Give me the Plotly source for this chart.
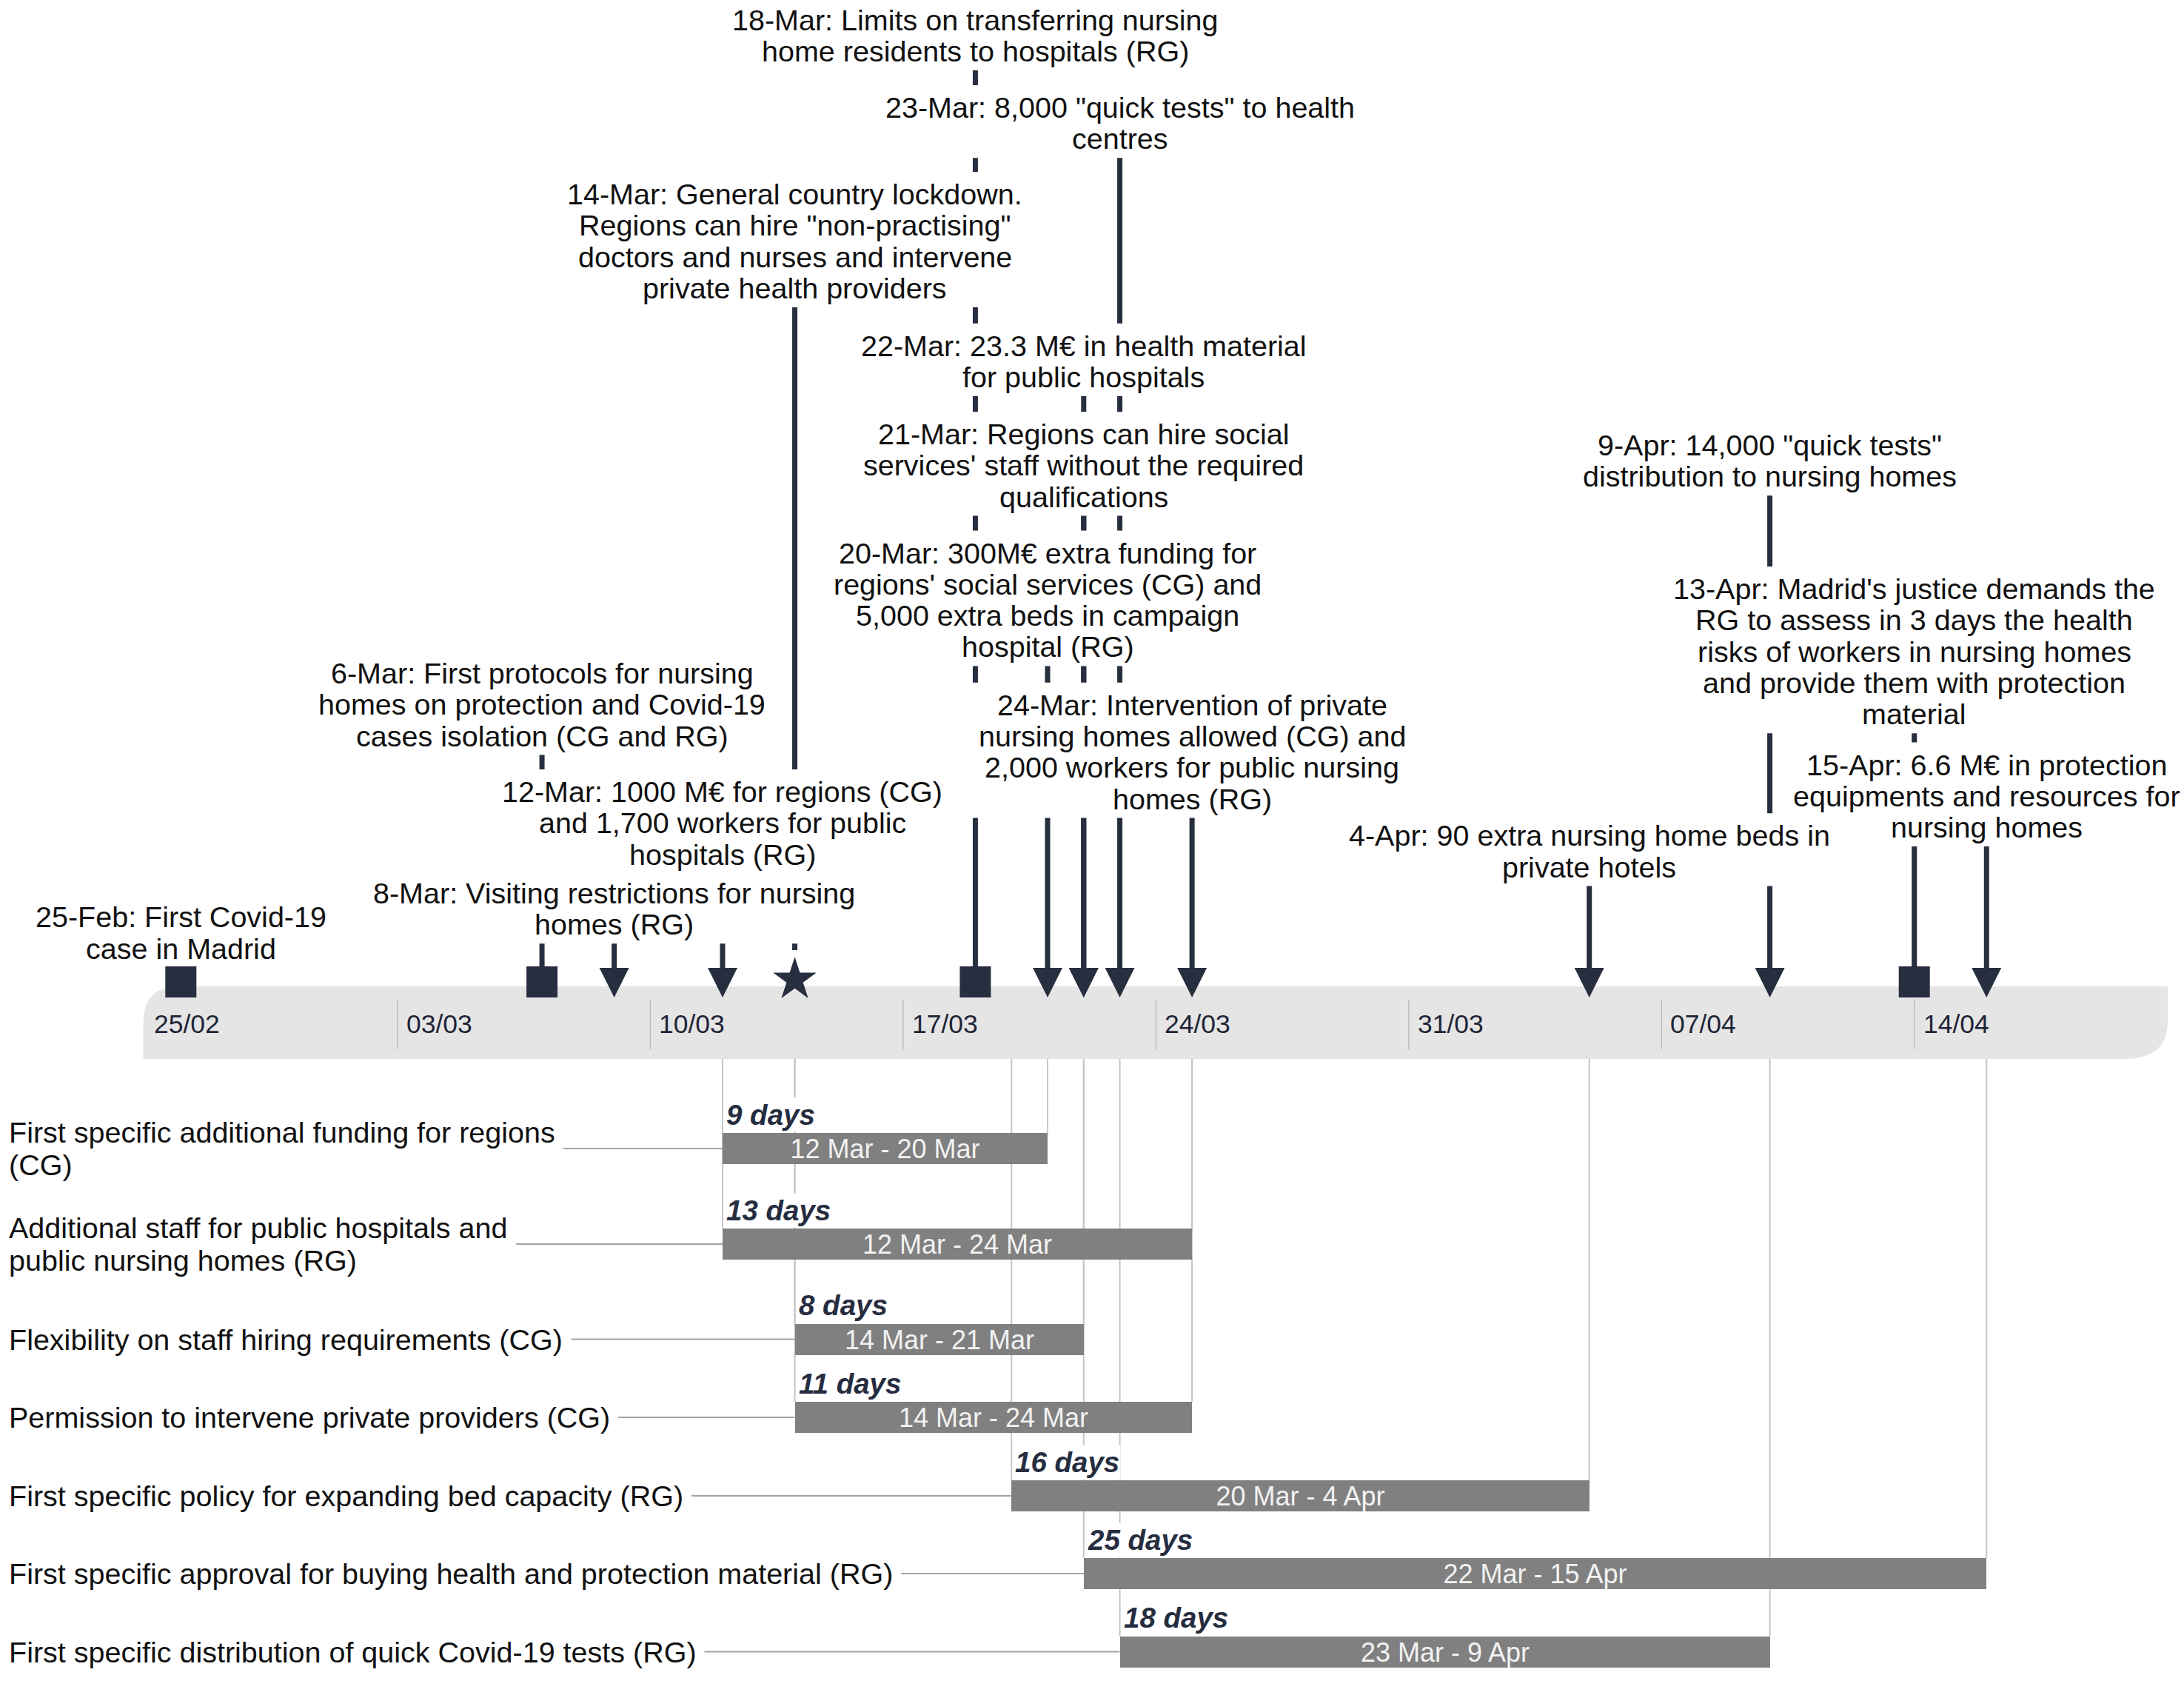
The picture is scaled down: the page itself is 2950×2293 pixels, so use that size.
import plotly.graph_objects as go
import pandas as pd

# ---------------- data ----------------
tick_dates = ['2020-02-25', '2020-03-03', '2020-03-10', '2020-03-17',
              '2020-03-24', '2020-03-31', '2020-04-07', '2020-04-14']
tick_labels = ['25/02', '03/03', '10/03', '17/03', '24/03', '31/03', '07/04', '14/04']

event_texts = [
    "25-Feb: First Covid-19\ncase in Madrid",
    "6-Mar: First protocols for nursing\nhomes on protection and Covid-19\ncases isolation (CG and RG)",
    "8-Mar: Visiting restrictions for nursing\nhomes (RG)",
    "12-Mar: 1000 M€ for regions (CG)\nand 1,700 workers for public\nhospitals (RG)",
    "14-Mar: General country lockdown.\nRegions can hire \"non-practising\"\ndoctors and nurses and intervene\nprivate health providers",
    "18-Mar: Limits on transferring nursing\nhome residents to hospitals (RG)",
    "20-Mar: 300M€ extra funding for\nregions' social services (CG) and\n5,000 extra beds in campaign\nhospital (RG)",
    "21-Mar: Regions can hire social\nservices' staff without the required\nqualifications",
    "22-Mar: 23.3 M€ in health material\nfor public hospitals",
    "23-Mar: 8,000 \"quick tests\" to health\ncentres",
    "24-Mar: Intervention of private\nnursing homes allowed (CG) and\n2,000 workers for public nursing\nhomes (RG)",
    "4-Apr: 90 extra nursing home beds in\nprivate hotels",
    "9-Apr: 14,000 \"quick tests\"\ndistribution to nursing homes",
    "13-Apr: Madrid's justice demands the\nRG to assess in 3 days the health\nrisks of workers in nursing homes\nand provide them with protection\nmaterial",
    "15-Apr: 6.6 M€ in protection\nequipments and resources for\nnursing homes",
]
# marker positions
event_marker_dates = ['2020-02-26', '2020-03-07', '2020-03-09', '2020-03-12', '2020-03-14',
                      '2020-03-19', '2020-03-21', '2020-03-22', '2020-03-22', '2020-03-23',
                      '2020-03-25', '2020-04-05', '2020-04-10', '2020-04-14', '2020-04-16']
event_symbols = ['square', 'square', 'arrow-down', 'arrow-down', 'star',
                 'square', 'arrow-down', 'arrow-down', 'arrow-down', 'arrow-down',
                 'arrow-down', 'arrow-down', 'arrow-down', 'square', 'arrow-down']

policies = [
    "First specific additional funding for regions\n(CG)",
    "Additional staff for public hospitals and\npublic nursing homes (RG)",
    "Flexibility on staff hiring requirements (CG)",
    "Permission to intervene private providers (CG)",
    "First specific policy for expanding bed capacity (RG)",
    "First specific approval for buying health and protection material (RG)",
    "First specific distribution of quick Covid-19 tests (RG)",
]
policy_start = ['2020-03-12', '2020-03-12', '2020-03-14', '2020-03-14',
                '2020-03-20', '2020-03-22', '2020-03-23']
policy_end = ['2020-03-20', '2020-03-24', '2020-03-21', '2020-03-24',
              '2020-04-04', '2020-04-15', '2020-04-09']

# ---------------- layout (positions, px from top) ----------------
W, H = 2950, 2293
ORIGIN = pd.Timestamp('2020-02-25')
PX0, PPD = 195.5, 48.78
label_first_y = [1238.3, 909, 1206, 1069, 262, 26.7, 746.5, 586, 466.7, 145,
                 951.7, 1128.3, 601, 795, 1032.5]
row_y = [1551, 1680, 1808.5, 1914, 2020, 2125, 2230.5]
PITCH = 42.3
BAND_TOP, BAND_BOT = 1332, 1430
FONT = "Liberation Sans, Arial, sans-serif"
NAVY = '#272e3f'
FS = 39.5

# Arial advance widths (per 1000 em) for box sizing
_AW = {' ': 278, '!': 278, '"': 355, "'": 191, '(': 333, ')': 333, ',': 278, '-': 333,
       '.': 278, '/': 278, ':': 278, '€': 556}
for ch in '0123456789':
    _AW[ch] = 556
_AW.update(dict(A=667, B=667, C=722, D=722, E=667, F=611, G=778, H=722, I=278, J=500, K=667,
                L=556, M=833, N=722, O=778, P=667, Q=778, R=722, S=667, T=611, U=722, V=667,
                W=944, X=667, Y=667, Z=611))
_AW.update(dict(a=556, b=556, c=500, d=556, e=556, f=278, g=556, h=556, i=222, j=222, k=500,
                l=222, m=833, n=556, o=556, p=556, q=556, r=333, s=500, t=278, u=556, v=500,
                w=722, x=500, y=500, z=500))


def text_w(s, size):
    return sum(_AW.get(c, 556) for c in s) * size / 1000.0


def ts(d):
    return pd.Timestamp(d).strftime('%Y-%m-%d %H:%M:%S')


x_start = ORIGIN + pd.Timedelta(days=-PX0 / PPD)
x_end = ORIGIN + pd.Timedelta(days=(W - PX0) / PPD)

shapes = []
annotations = []

# timeline band (rounded top-left and bottom-right corners)
L, R = -2, 2732.5
shapes.append(dict(
    type='path', xref='x', yref='y', xsizemode='pixel', xanchor=ts(ORIGIN),
    path=(f"M {L},{BAND_BOT} L {L},{BAND_TOP + 50} Q {L},{BAND_TOP} {L + 48},{BAND_TOP} "
          f"L {R},{BAND_TOP} L {R},{BAND_BOT - 50} Q {R},{BAND_BOT} {R - 60},{BAND_BOT} Z"),
    fillcolor='#e5e5e5', line=dict(width=0), layer='below'))

# week dividers + tick labels
for i, (d, lab) in enumerate(zip(tick_dates, tick_labels)):
    if i > 0:
        shapes.append(dict(type='line', xref='x', yref='y', x0=d, x1=d, y0=1350, y1=1417,
                           line=dict(color='#bdbdbd', width=1.5), layer='below'))
    annotations.append(dict(x=d, y=1383, xref='x', yref='y', text=lab, showarrow=False,
                            xanchor='left', yanchor='middle', xshift=10,
                            font=dict(family=FONT, size=35.5, color='#1e2436')))

# gantt
starts = pd.to_datetime(policy_start)
ends = pd.to_datetime(policy_end)
durations = [(e - s).days + 1 for s, e in zip(starts, ends)]
bar_text = [f"{s.day} {s:%b} - {e.day} {e:%b}" for s, e in zip(starts, ends)]
BAR_H = 42

# vertical guides from the band to each bar's start / end
for s, e, y in zip(starts, ends, row_y):
    for d in (s, e + pd.Timedelta(days=1)):
        shapes.append(dict(type='line', xref='x', yref='y', x0=ts(d), x1=ts(d),
                           y0=BAND_BOT, y1=y - BAR_H / 2,
                           line=dict(color='#c6c6c6', width=2), layer='below'))

# horizontal connectors from the labels to the bars
for s, y in zip(starts, row_y):
    shapes.append(dict(type='line', xref='x', yref='y', x0=ts(x_start), x1=ts(s),
                       y0=y, y1=y, line=dict(color='#a3a3a3', width=2), layer='below'))

# category labels (white box hides the connector behind the text)
CAT_PITCH = 44
for txt, y in zip(policies, row_y):
    lines = txt.split('\n')
    n = len(lines)
    first = y - (n - 1) * CAT_PITCH / 2
    wmax = max(text_w(l, FS) for l in lines)
    shapes.append(dict(type='rect', xref='x', yref='y', xsizemode='pixel', xanchor=ts(x_start),
                       x0=-5, x1=11 + wmax + 12,
                       y0=first - 30, y1=first + (n - 1) * CAT_PITCH + 26,
                       fillcolor='white', line=dict(width=0), layer='below'))
    for k, l in enumerate(lines):
        annotations.append(dict(x=9.5 / W, y=first + k * CAT_PITCH, xref='paper', yref='y',
                                text=l, showarrow=False, xanchor='left', yanchor='middle',
                                font=dict(family=FONT, size=FS, color='#111111')))

# "N days" labels
for s, n, y in zip(starts, durations, row_y):
    annotations.append(dict(x=ts(s), y=y - BAR_H / 2 - 25, xref='x', yref='y',
                            text=f"<b><i>{n} days</i></b>", showarrow=False,
                            xanchor='left', yanchor='middle', xshift=3,
                            bgcolor='white', borderpad=1,
                            font=dict(family=FONT, size=38.5, color='#262d40')))

# event stems, label backgrounds, label text
stem_end = {'square': 1326, 'arrow-down': 1322, 'star': 1283}
for txt, md, sym, fy in zip(event_texts, event_marker_dates, event_symbols, label_first_y):
    lines = txt.split('\n')
    last = fy + (len(lines) - 1) * PITCH
    shapes.append(dict(type='line', xref='x', yref='y', x0=md, x1=md, y0=last, y1=stem_end[sym],
                       line=dict(color=NAVY, width=7), layer='below'))
for txt, md, fy in zip(event_texts, event_marker_dates, label_first_y):
    lines = txt.split('\n')
    last = fy + (len(lines) - 1) * PITCH
    half = max(text_w(l, FS) for l in lines) / 2 + 13
    shapes.append(dict(type='rect', xref='x', yref='y', xsizemode='pixel', xanchor=md,
                       x0=-half, x1=half, y0=fy - 30, y1=last + 26,
                       fillcolor='white', line=dict(width=0), layer='below'))
    for k, l in enumerate(lines):
        annotations.append(dict(x=md, y=fy + k * PITCH, xref='x', yref='y', text=l,
                                showarrow=False, xanchor='center', yanchor='middle',
                                font=dict(family=FONT, size=FS, color='#111111')))

fig = go.Figure()

fig.add_trace(go.Bar(
    base=[ts(s) for s in starts], x=[d * 86400000 for d in durations], y=row_y,
    orientation='h', width=BAR_H, marker=dict(color='#808080', line=dict(width=0)),
    text=bar_text, textposition='inside', insidetextanchor='middle', textangle=0,
    constraintext='none', textfont=dict(family=FONT, size=36, color='#f2f2f2'),
    hoverinfo='skip'))

marker_y = {'square': 1326, 'arrow-down': 1347, 'star': 1323}
marker_size = {'square': 42, 'arrow-down': 40, 'star': 44}
fig.add_trace(go.Scatter(
    x=event_marker_dates, y=[marker_y[s] for s in event_symbols], mode='markers',
    marker=dict(symbol=event_symbols, size=[marker_size[s] for s in event_symbols],
                color=NAVY, opacity=1, line=dict(width=0)),
    hoverinfo='skip'))

fig.update_layout(
    width=W, height=H, margin=dict(l=0, r=0, t=0, b=0, pad=0),
    plot_bgcolor='white', paper_bgcolor='white', showlegend=False,
    xaxis=dict(type='date', range=[ts(x_start), ts(x_end)], visible=False, fixedrange=True),
    yaxis=dict(range=[H, 0], visible=False, fixedrange=True),
    shapes=shapes, annotations=annotations, bargap=0,
)

fig.write_html("out.html", config={'displayModeBar': False},
               post_script="document.body.style.margin='0px';document.body.style.padding='0px';")
